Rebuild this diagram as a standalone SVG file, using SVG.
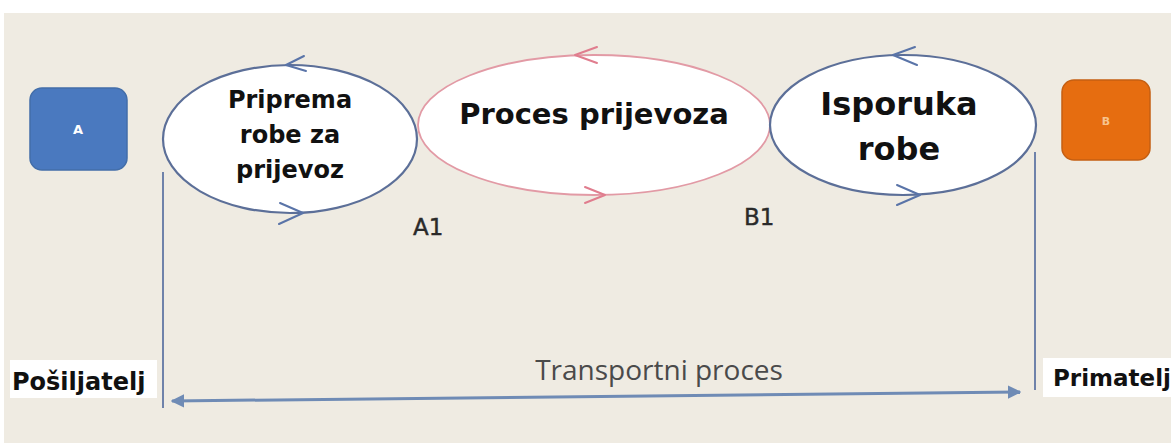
<svg xmlns="http://www.w3.org/2000/svg" width="1171" height="443" viewBox="0 0 1171 443">
<style>
.bg{fill:#efebe2}
.ell{fill:#ffffff;stroke:#5c6f98;stroke-width:2.2}
.ellr{fill:#ffffff;stroke:#e29aa5;stroke-width:1.8}
.chev{fill:none;stroke:#5a74a8;stroke-width:2;stroke-linecap:round;stroke-linejoin:round}
.chevr{fill:none;stroke:#e07d8e;stroke-width:2;stroke-linecap:round;stroke-linejoin:round}
.t{font-family:"DejaVu Sans",sans-serif;font-weight:bold;fill:#111;text-anchor:middle}
.vline{stroke:#6f82aa;stroke-width:2;fill:none}
.harrow{stroke:#6f8bb5;stroke-width:3;fill:none}
.lbl{font-family:"DejaVu Sans",sans-serif;fill:#2a2a2a;stroke:#2a2a2a;stroke-width:0.4}
</style>
<defs>
<marker id="ah" viewBox="0 0 10 10" refX="9" refY="5" markerWidth="4.5" markerHeight="4.5" orient="auto-start-reverse">
<path d="M0,0 L10,5 L0,10 z" fill="#6f8bb5"/>
</marker>
</defs>
<rect x="0" y="0" width="1171" height="443" fill="#ffffff"/>
<rect class="bg" x="4" y="13" width="1167" height="430"/>

<g id="nodeA">
<rect x="30" y="88" width="97" height="82" rx="12" fill="#4a79bf" stroke="#436ea9" stroke-width="1.5"/>
<text x="78" y="134" font-family="DejaVu Sans,sans-serif" font-weight="bold" font-size="13" fill="#ffffff" text-anchor="middle">A</text>
</g>

<g id="nodeB">
<rect x="1062" y="80" width="88" height="80" rx="12" fill="#e66d10" stroke="#c55f12" stroke-width="1.5"/>
<text x="1106" y="125" font-family="DejaVu Sans,sans-serif" font-weight="bold" font-size="11" fill="#f7c48f" text-anchor="middle">B</text>
</g>

<g id="priprema">
<ellipse class="ell" cx="290" cy="139" rx="127" ry="74"/>
<text class="t" font-size="24"><tspan x="290" y="108">Priprema</tspan><tspan x="290" y="143">robe za</tspan><tspan x="290" y="178">prijevoz</tspan></text>
</g>

<g id="proces">
<ellipse class="ellr" cx="594" cy="125" rx="176" ry="70"/>
<text class="t" font-size="29" x="594" y="124">Proces prijevoza</text>
</g>

<g id="isporuka">
<ellipse class="ell" cx="903" cy="125" rx="133" ry="70"/>
<text class="t" font-size="32"><tspan x="899" y="115">Isporuka</tspan><tspan x="899" y="160">robe</tspan></text>
</g>

<g id="connectors">
<path class="chev" d="M304,56 L286,65 L306,71"/>
<path class="chev" d="M280,203 L303,213 L279,224"/>
<path class="chevr" d="M597,47 L575,55 L597,63"/>
<path class="chevr" d="M585,187 L605,195 L585,203"/>
<path class="chev" d="M915,47 L893,55 L917,65"/>
<path class="chev" d="M897,185 L920,195 L897,205"/>
<line class="vline" x1="163" y1="172" x2="163" y2="408"/>
<line class="vline" x1="1035" y1="152" x2="1035" y2="390"/>
<line class="harrow" x1="172" y1="401" x2="1020" y2="392" marker-start="url(#ah)" marker-end="url(#ah)"/>
</g>

<g id="labels">
<text class="lbl" x="413" y="235" font-size="23">A1</text>
<text class="lbl" x="744" y="225" font-size="23">B1</text>
<text x="659" y="380" font-family="Open Sans,sans-serif" font-size="28" fill="#4a4a4a" text-anchor="middle">Transportni proces</text>
</g>

<g id="posiljatelj">
<rect x="10" y="360" width="147" height="38" fill="#ffffff"/>
<text x="12" y="390" font-family="DejaVu Sans,sans-serif" font-weight="bold" font-size="24" fill="#111">Pošiljatelj</text>
</g>

<g id="primatelj">
<rect x="1043" y="358" width="128" height="39" fill="#ffffff"/>
<text x="1053" y="386" font-family="DejaVu Sans,sans-serif" font-weight="bold" font-size="23" fill="#111">Primatelj</text>
</g>
</svg>
